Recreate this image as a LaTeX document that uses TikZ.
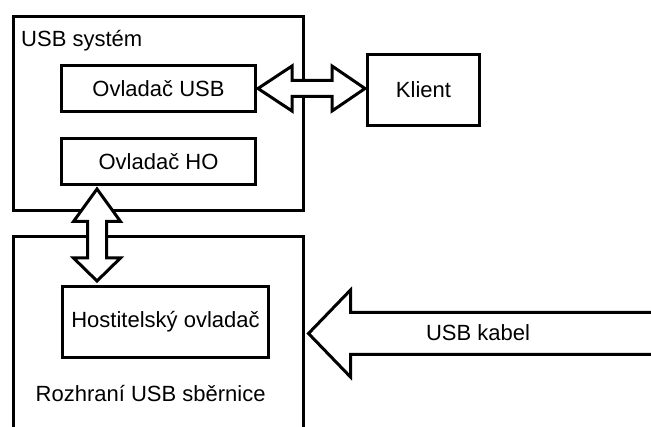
\documentclass[tikz,border=0pt]{standalone}
\usepackage{fontspec}
\setmainfont{Liberation Sans}
\usetikzlibrary{calc}

\begin{document}
\begin{tikzpicture}[x=1pt,y=-1pt,
    every node/.style={font=\fontsize{22}{26}\selectfont, inner sep=0pt},
    block/.style={draw, line width=3pt, rectangle},
    frame/.style={line width=3pt},
    hollow/.style={draw, fill=white, line width=3pt, line join=miter},
  ]
  \useasboundingbox (0,0) rectangle (651,427);
  \clip (0,0) rectangle (651,427);

  % USB system container and its drivers
  \node[block, minimum width=290, minimum height=194] (sys) at (158.5,113.5) {};
  \node[anchor=base west] (systitle) at (21,47) {USB systém};
  \node[block, minimum width=194, minimum height=46] (ousb) at (158.5,88.5) {Ovladač USB};
  \node[block, minimum width=194, minimum height=46] (oho) at (158.5,161.5) {Ovladač HO};

  % client
  \node[block, minimum width=112, minimum height=71] (klient) at (423.5,90) {Klient};

  % bus interface, open at the bottom
  \node[minimum width=290, minimum height=200, outer sep=0pt] (bus) at (158.5,336.5) {};
  \draw[frame] (bus.south west) -- (bus.north west) -- (bus.north east) -- (bus.south east);
  \node[block, minimum width=206, minimum height=71] (host) at (165.5,322) {Hostitelský ovladač};
  \node[anchor=base west] (bustitle) at (35.5,402) {Rozhraní USB sběrnice};

  % driver <-> client
  \draw[hollow] let \p1=(ousb.east), \p2=(klient.west) in
    (\x1+1,\y1) -- (\x1+35,\y1+22.5) -- (\x1+35,\y1+8) -- (\x2-34,\y1+8)
    -- (\x2-34,\y1+22.5) -- (\x2-1,\y1) -- (\x2-34,\y1-22.5) -- (\x2-34,\y1-8)
    -- (\x1+35,\y1-8) -- (\x1+35,\y1-22.5) -- cycle;

  % host driver <-> host controller
  \draw[hollow] let \p1=(oho.south west), \p2=(host.north) in
    (\x1+37,\y1-3) -- (\x1+60.5,\y1-35.5) -- (\x1+46.5,\y1-35.5) -- (\x1+46.5,\y2+27)
    -- (\x1+60.5,\y2+27) -- (\x1+37,\y2+4) -- (\x1+13.5,\y2+27) -- (\x1+27.5,\y2+27)
    -- (\x1+27.5,\y1-35.5) -- (\x1+13.5,\y1-35.5) -- cycle;

  % cable entering the bus interface
  \coordinate (cable) at (665,333.5);
  \draw[hollow] let \p1=(bus.east |- cable), \p2=(cable) in
    (\x1+5,\y1) -- (\x1+47,\y1+43.5) -- (\x1+47,\y1+21) -- (\x2,\y1+21)
    -- (\x2,\y1-21) -- (\x1+47,\y1-21) -- (\x1+47,\y1-43.5) -- cycle;
  \node (cablelabel) at (478,333) {USB kabel};
\end{tikzpicture}
\end{document}
